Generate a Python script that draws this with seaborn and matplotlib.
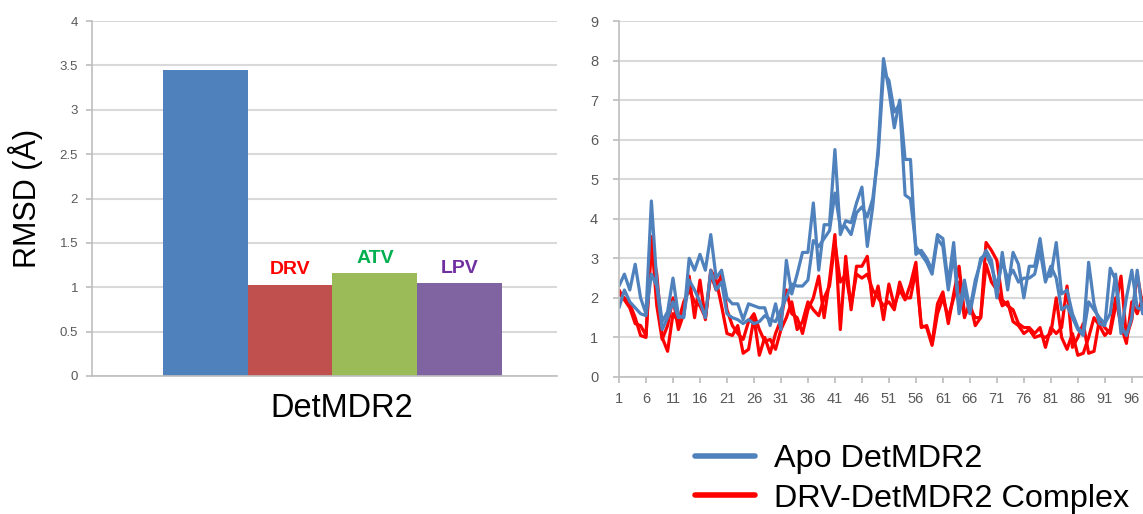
import numpy as np
import pandas as pd
import matplotlib
matplotlib.use("Agg")
import matplotlib.pyplot as plt
import seaborn as sns
from matplotlib.lines import Line2D

# ---------------- data ----------------
group_label = "DetMDR2"
systems = ["Apo", "DRV", "ATV", "LPV"]
bar_rmsd = [3.45, 1.03, 1.16, 1.05]
bar_colors = ["#4F81BD", "#C0504D", "#9BBB59", "#8064A2"]
bar_text = ["", "DRV", "ATV", "LPV"]
bar_text_colors = ["#000000", "#FF0000", "#00B050", "#7030A0"]

residues = list(range(1, 100))
xtick_labels = list(range(1, 97, 5))

apo_chain_a = [2.3, 2.6, 2.2, 2.85, 2.0, 1.6, 4.45, 2.4, 1.4, 1.65,
               2.5, 1.55, 1.5, 3.0, 2.7, 3.1, 2.7, 3.6, 2.5, 2.7,
               2.0, 1.85, 1.85, 1.45, 1.85, 1.8, 1.75, 1.75, 1.3, 1.85,
               1.2, 2.95, 2.1, 2.6, 3.15, 3.15, 4.4, 2.7, 3.85, 3.85,
               5.75, 3.6, 3.95, 3.9, 4.4, 4.8, 3.3, 4.3, 5.75, 8.05,
               7.25, 6.3, 7.0, 5.5, 5.5, 3.1, 3.2, 3.0, 2.7, 3.6,
               3.5, 2.35, 3.4, 1.7, 2.45, 1.7, 2.45, 2.9, 3.2, 2.95,
               2.0, 3.15, 2.2, 3.15, 2.85, 2.0, 2.8, 2.8, 3.5, 2.55,
               2.55, 3.4, 2.1, 2.2, 1.6, 1.25, 1.1, 2.9, 1.85, 1.35,
               1.3, 2.75, 2.45, 1.1, 2.0, 2.7, 1.75, 1.7, 1.65]
apo_chain_b = [1.75, 2.2, 1.9, 1.75, 1.6, 1.55, 2.6, 2.3, 1.2, 1.5,
               1.9, 1.5, 1.55, 2.45, 2.2, 1.9, 1.5, 2.7, 2.2, 2.4,
               1.6, 1.5, 1.45, 1.35, 1.45, 1.35, 1.4, 1.55, 1.45, 1.4,
               1.7, 2.0, 2.35, 2.3, 2.3, 2.45, 3.45, 3.3, 3.5, 3.7,
               4.65, 3.8, 3.8, 3.6, 4.15, 4.3, 4.05, 4.5, 5.6, 7.7,
               7.5, 6.7, 6.9, 4.6, 4.5, 3.3, 3.1, 2.9, 2.6, 3.5,
               3.3, 2.2, 3.1, 1.6, 2.2, 1.6, 2.3, 3.0, 3.1, 2.8,
               2.3, 2.9, 2.5, 2.7, 2.4, 2.5, 2.5, 2.6, 3.2, 2.4,
               2.8, 2.5, 1.7, 1.8, 1.5, 1.2, 1.05, 1.9, 1.7, 1.5,
               1.35, 1.6, 2.6, 1.3, 1.05, 1.5, 2.7, 1.6, 1.7]
drv_chain_a = [2.1, 2.0, 1.85, 1.5, 1.05, 1.0, 3.55, 1.8, 0.95, 1.3,
               2.0, 1.2, 1.6, 2.55, 1.5, 2.45, 1.45, 2.7, 2.45, 1.8,
               1.1, 1.05, 1.3, 0.6, 0.7, 1.5, 0.55, 1.0, 0.6, 1.1,
               1.45, 2.2, 1.6, 1.5, 1.1, 1.7, 2.0, 2.55, 1.5, 2.45,
               3.6, 1.2, 3.05, 1.7, 2.8, 2.8, 3.05, 1.8, 2.3, 1.45,
               2.35, 1.8, 2.2, 1.95, 2.35, 2.9, 1.25, 1.3, 0.85, 1.85,
               2.15, 1.35, 2.1, 2.8, 1.6, 1.75, 1.5, 1.5, 3.4, 3.2,
               2.95, 1.95, 1.8, 1.7, 1.35, 1.25, 1.25, 1.1, 1.25, 0.75,
               1.25, 1.1, 1.25, 2.3, 0.75, 1.0, 1.35, 0.6, 0.65, 1.45,
               1.25, 1.1, 1.8, 2.55, 1.0, 1.45, 2.6, 1.8, 1.7]
drv_chain_b = [2.2, 1.95, 1.75, 1.35, 1.3, 1.05, 3.3, 2.6, 1.0, 0.65,
               1.6, 1.4, 1.9, 2.2, 1.9, 1.8, 1.5, 2.6, 2.2, 2.6,
               1.7, 1.3, 1.1, 0.95, 1.4, 1.6, 1.2, 0.9, 0.95, 0.7,
               1.2, 1.5, 1.9, 1.2, 1.4, 1.9, 1.7, 1.55, 2.0, 2.3,
               3.4, 2.4, 2.6, 1.8, 2.6, 2.5, 2.6, 2.2, 2.0, 1.8,
               1.9, 1.7, 2.4, 2.0, 2.0, 2.7, 1.3, 1.25, 0.8, 1.6,
               2.0, 1.5, 2.0, 2.4, 1.5, 1.9, 1.3, 1.5, 2.85, 2.4,
               2.2, 1.8, 1.9, 1.4, 1.3, 1.1, 1.2, 1.0, 1.05, 1.0,
               1.1, 2.0, 1.0, 0.7, 1.1, 0.55, 0.6, 1.0, 1.5, 1.3,
               1.05, 1.2, 2.0, 1.3, 0.85, 1.9, 1.6, 2.0, 1.65]

legend_labels = ["Apo DetMDR2", "DRV-DetMDR2 Complex"]
line_colors = {"Apo DetMDR2": "#4F81BD", "DRV-DetMDR2 Complex": "#FF0000"}

# ---------------- style ----------------
sns.set_theme(style="white")
plt.rcParams["font.family"] = ["Liberation Sans", "DejaVu Sans"]
plt.rcParams["text.color"] = "black"
plt.rcParams["axes.labelcolor"] = "black"

W, H = 1143, 514
fig = plt.figure(figsize=(W / 100, H / 100), dpi=100)

grid_c = "#D9D9D9"
axis_c = "#BFBFBF"
tick_c = "#595959"

# ---------------- left: bar chart ----------------
ax1 = fig.add_axes([92 / W, (H - 376) / H, (557 - 92) / W, (376 - 21) / H])
df_bar = pd.DataFrame({"group": [group_label] * len(systems),
                       "system": systems, "rmsd": bar_rmsd})
sns.barplot(data=df_bar, x="group", y="rmsd", hue="system", hue_order=systems,
            palette=bar_colors, width=0.73, gap=0, saturation=1,
            legend=False, ax=ax1, edgecolor="none")
ax1.set_xlim(-0.517, 0.483)
ax1.set_ylim(0, 4)
yt = np.arange(0, 4.01, 0.5)
ax1.set_yticks(yt)
ax1.set_yticklabels([f"{v:g}" for v in yt])
ax1.set_xticks([0.02])
ax1.set_xticklabels([group_label])
ax1.set_axisbelow(True)
ax1.yaxis.grid(True, color=grid_c, lw=1.5)
ax1.xaxis.grid(False)
for s in ["top", "right"]:
    ax1.spines[s].set_visible(False)
for s in ["left", "bottom"]:
    ax1.spines[s].set_color(axis_c)
    ax1.spines[s].set_linewidth(1.2)
ax1.tick_params(axis="y", length=4, color=axis_c, labelsize=9.5, labelcolor=tick_c, pad=6, left=True)
ax1.tick_params(axis="x", length=0, labelsize=23.5, labelcolor="black", pad=12)
ax1.set_xlabel("")
ax1.set_ylabel("RMSD (Å)", fontsize=22, labelpad=12, color="black")

for cont, txt, col in zip(ax1.containers, bar_text, bar_text_colors):
    if not txt:
        continue
    p = cont.patches[0]
    ax1.text(p.get_x() + p.get_width() / 2, p.get_height() + 0.07, txt,
             ha="center", va="bottom", color=col, fontsize=14, fontweight="bold")

# ---------------- right: line chart ----------------
ax2 = fig.add_axes([619 / W, (H - 377) / H, (1148 - 619) / W, (377 - 21) / H])
df_line = pd.DataFrame({
    "residue": residues * 4,
    "rmsd": drv_chain_a + drv_chain_b + apo_chain_a + apo_chain_b,
    "system": [legend_labels[1]] * 198 + [legend_labels[0]] * 198,
    "chain": ["A"] * 99 + ["B"] * 99 + ["A"] * 99 + ["B"] * 99,
})
sns.lineplot(data=df_line[df_line.system == legend_labels[1]], x="residue", y="rmsd",
             units="chain", estimator=None, color=line_colors[legend_labels[1]],
             lw=2.3, legend=False, ax=ax2)
sns.lineplot(data=df_line[df_line.system == legend_labels[0]], x="residue", y="rmsd",
             units="chain", estimator=None, color=line_colors[legend_labels[0]],
             lw=2.3, legend=False, ax=ax2)
ax2.set_xlim(1, 99)
ax2.set_ylim(0, 9)
ax2.set_xticks(xtick_labels)
ax2.set_xticklabels([str(v) for v in xtick_labels])
ax2.set_yticks(range(0, 10))
ax2.set_axisbelow(True)
ax2.yaxis.grid(True, color=grid_c, lw=1.5)
ax2.xaxis.grid(False)
for s in ["top", "right"]:
    ax2.spines[s].set_visible(False)
for s in ["left", "bottom"]:
    ax2.spines[s].set_color(axis_c)
    ax2.spines[s].set_linewidth(1.2)
ax2.tick_params(axis="both", length=4, color=axis_c, labelsize=10.5, labelcolor=tick_c,
                left=True, bottom=True)
ax2.tick_params(axis="y", pad=11)
ax2.tick_params(axis="x", pad=7)
ax2.set_xlabel("")
ax2.set_ylabel("")

handles = [Line2D([], [], color=line_colors[l], lw=4) for l in legend_labels]
leg = fig.legend(handles, legend_labels, loc="upper left", bbox_to_anchor=(695 / W, 1 - 444 / H),
                 frameon=False, fontsize=23.3, handlelength=1.85, handletextpad=0.6,
                 labelspacing=0.3, borderpad=0, borderaxespad=0)
for t in leg.get_texts():
    t.set_color("black")

fig.savefig("out.png", dpi=100)
